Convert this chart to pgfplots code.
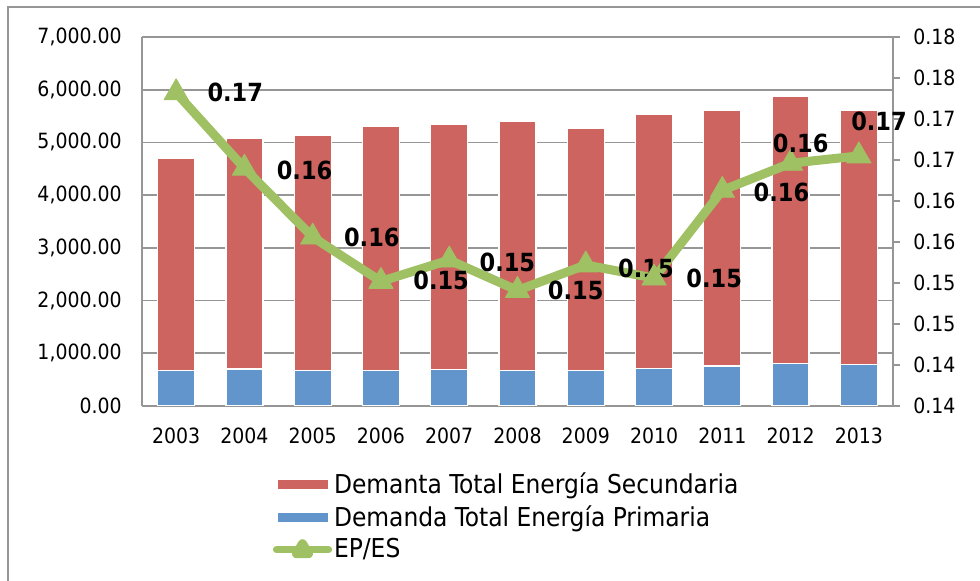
\documentclass[border=0pt]{standalone}
\usepackage{fontspec}
\setmainfont{DejaVu Sans Condensed}
\usepackage{pgfplots}
\pgfplotsset{compat=1.18}
\definecolor{redbar}{RGB}{205,100,95}
\definecolor{bluebar}{RGB}{98,149,203}
\definecolor{greenline}{RGB}{160,192,100}
\definecolor{gridc}{RGB}{150,150,150}
\newcommand{\tickfont}{\fontsize{10.5}{12}\selectfont}
\begin{document}
\begin{tikzpicture}
\useasboundingbox (-71pt,-87.5pt) rectangle (419pt,203pt);
\draw[gridc, line width=0.9pt] (-67pt,-87.5pt) -- (-67pt,199.5pt) -- (419pt,199.5pt);
\begin{axis}[
  at={(0pt,0pt)}, anchor=south west,
  scale only axis, width=375.5pt, height=184.5pt,
  ybar stacked, bar width=18.5pt,
  xmin=-0.5, xmax=10.5, ymin=0, ymax=7000,
  xtick={0,...,10},
  xticklabels={2003,2004,2005,2006,2007,2008,2009,2010,2011,2012,2013},
  ytick={0,1000,...,7000},
  ymajorgrids, grid style={gridc, line width=0.8pt},
  axis line style={gridc, line width=0.8pt},
  axis x line*=bottom, axis y line*=left,
  tick style={draw=none},
  y tick label style={/pgf/number format/fixed, /pgf/number format/fixed zerofill, /pgf/number format/precision=2, /pgf/number format/1000 sep={,}, /pgf/number format/assume math mode=true},
  yticklabel style={font=\tickfont, anchor=east, inner sep=0pt, xshift=-10pt},
  xticklabel style={font=\tickfont, anchor=north, inner sep=0pt, yshift=-11pt},
]
\addplot[fill=bluebar, draw=white, line width=0.6pt] coordinates {
(0,680) (1,700) (2,680) (3,680) (4,690) (5,680) (6,680) (7,705) (8,760) (9,810) (10,780)};
\addplot[fill=redbar, draw=white, line width=0.6pt] coordinates {
(0,4020) (1,4385) (2,4450) (3,4620) (4,4650) (5,4710) (6,4595) (7,4835) (8,4845) (9,5060) (10,4825)};
\end{axis}
\begin{axis}[
  at={(0pt,0pt)}, anchor=south west,
  scale only axis, width=375.5pt, height=184.5pt,
  xmin=-0.5, xmax=10.5, ymin=0.135, ymax=0.18,
  axis x line=none, axis y line*=right,
  ytick={0.135,0.14,0.145,0.15,0.155,0.16,0.165,0.17,0.175,0.18},
  yticklabels={0.14,0.14,0.15,0.15,0.16,0.16,0.17,0.17,0.18,0.18},
  axis line style={gridc, line width=0.8pt},
  ytick style={gridc, line width=0.8pt},
  major tick length=3.5pt, tick align=outside,
  yticklabel style={font=\tickfont, anchor=west, inner sep=0pt, xshift=6.5pt},
  legend style={at={(0,0)}, anchor=north west, xshift=63pt, yshift=-31.5pt,
    draw=none, fill=none, inner sep=0pt, outer sep=0pt,
    font=\fontsize{13}{15}\selectfont, row sep=0.5pt,
    /tikz/every odd column/.append style={column sep=-3.5pt}},
  legend cell align=left,
]
\addlegendimage{legend image code/.code={\path (0pt,0pt) (30pt,0pt); \fill[redbar] (3pt,-2pt) rectangle (27.5pt,2pt);}}
\addlegendentry{Demanta Total Energía Secundaria}
\addlegendimage{legend image code/.code={\path (0pt,0pt) (30pt,0pt); \fill[bluebar] (3pt,-2pt) rectangle (27.5pt,2pt);}}
\addlegendentry{Demanda Total Energía Primaria}
\addplot[greenline, line width=4.5pt, line join=round,
  mark=triangle*, mark size=7pt, mark options={solid, fill=greenline, draw=greenline, line width=0.4pt},
  point meta=explicit symbolic, nodes near coords, nodes near coords align={horizontal},
  visualization depends on={\thisrow{dx}\as\labdx},
  visualization depends on={\thisrow{dy}\as\labdy},
  every node near coord/.append style={font=\bfseries\fontsize{12.5}{14}\selectfont, text=black, inner sep=0pt, anchor=west, xshift=\labdx pt, yshift=\labdy pt},
  legend image code/.code={\path (0pt,0pt) (30pt,0pt); \draw[greenline, line width=3.6pt, line cap=round] (2pt,0pt) -- (28pt,0pt); \fill[greenline] (15pt,3pt) -- (12pt,-2pt) -- (18pt,-2pt) -- cycle;}
] table[x=x, y=y, meta=lab] {
x y lab dx dy
0 0.1732 0.17 15.5 0
1 0.1640 0.16 16 -1
2 0.1556 0.16 15.5 0
3 0.1502 0.15 16 0.5
4 0.1528 0.15 15 -1
5 0.1491 0.15 15 0
6 0.1522 0.15 16 -1.5
7 0.1506 0.15 16 0
8 0.1613 0.16 15.5 -1
9 0.1646 0.16 -9 10
10 0.1655 0.17 -4 17
};
\addlegendentry{EP/ES}
\end{axis}
\end{tikzpicture}
\end{document}
